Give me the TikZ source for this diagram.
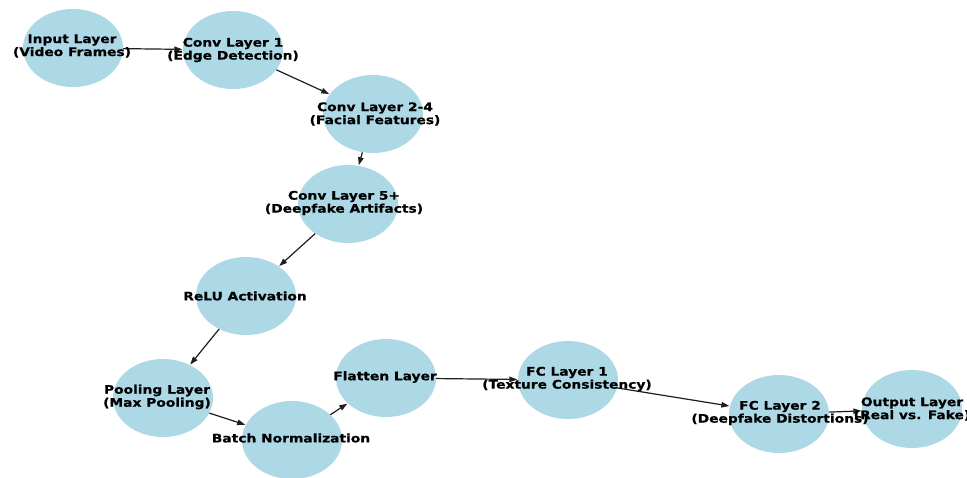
\documentclass[tikz,border=0pt]{standalone}
\usepackage{fontspec}
\usetikzlibrary{shapes.geometric,arrows.meta}
\newfontfamily\lblfont[FakeStretch=1.17,FakeBold=0.6]{DejaVu Sans}
\definecolor{nodeblue}{HTML}{ADD8E6}
\definecolor{edgeink}{HTML}{1E1E1E}
\tikzset{
  layer/.style={ellipse, fill=nodeblue, draw=none, inner sep=0pt,
                minimum width=100pt, minimum height=78pt},
  lbl/.style={align=center, inner sep=0pt, text=black,
              font=\lblfont\bfseries\fontsize{11.8pt}{13pt}\selectfont},
  flow/.style={draw=edgeink, line width=1.2pt,
               -{Triangle[length=8pt,width=5.5pt]}, shorten >=0.5pt}
}
\begin{document}
\begin{tikzpicture}[x=1pt,y=-1pt]
  \useasboundingbox[fill=white] (0,0) rectangle (967,477);

  % layer bubbles
  \node[layer] (in)    at (73,48)   {};
  \node[layer] (c1)    at (233,50)  {};
  \node[layer] (c24)   at (373,114) {};
  \node[layer] (c5)    at (348,204) {};
  \node[layer] (relu)  at (246,296) {};
  \node[layer] (pool)  at (163,398) {};
  \node[layer] (bn)    at (292,440) {};
  \node[layer] (flat)  at (386,378) {};
  \node[layer] (fc1)   at (568,380) {};
  \node[layer] (fc2)   at (779,414) {};
  \node[layer] (out)   at (912,409) {};

  % data flow between layers
  \draw[flow] (in)   -- (c1);
  \draw[flow] (c1)   -- (c24);
  \draw[flow] (c24)  -- (c5);
  \draw[flow] (c5)   -- (relu);
  \draw[flow] (relu) -- (pool);
  \draw[flow] (pool) -- (bn);
  \draw[flow] (bn)   -- (flat);
  \draw[flow] (flat) -- (fc1);
  \draw[flow] (fc1)  -- (fc2);
  \draw[flow] (fc2)  -- (out);

  % layer captions
  \node[lbl] (tin)   at (72,46)    {Input Layer\\(Video Frames)};
  \node[lbl] (tc1)   at (233,50)   {Conv Layer 1\\(Edge Detection)};
  \node[lbl] (tc24)  at (375,114)  {Conv Layer 2-4\\(Facial Features)};
  \node[lbl] (tc5)   at (344,203)  {Conv Layer 5+\\(Deepfake Artifacts)};
  \node[lbl] (trelu) at (245,296)  {ReLU Activation};
  \node[lbl] (tpool) at (157,397)  {Pooling Layer\\(Max Pooling)};
  \node[lbl] (tbn)   at (291,438)  {Batch Normalization};
  \node[lbl] (tflat) at (385,377)  {Flatten Layer};
  \node[lbl] (tfc1)  at (567,379)  {FC Layer 1\\(Texture Consistency)};
  \node[lbl] (tfc2)  at (780,413)  {FC Layer 2\\(Deepfake Distortions)};
  \node[lbl] (tout)  at (912,409)  {Output Layer\\(Real vs. Fake)};
\end{tikzpicture}
\end{document}
